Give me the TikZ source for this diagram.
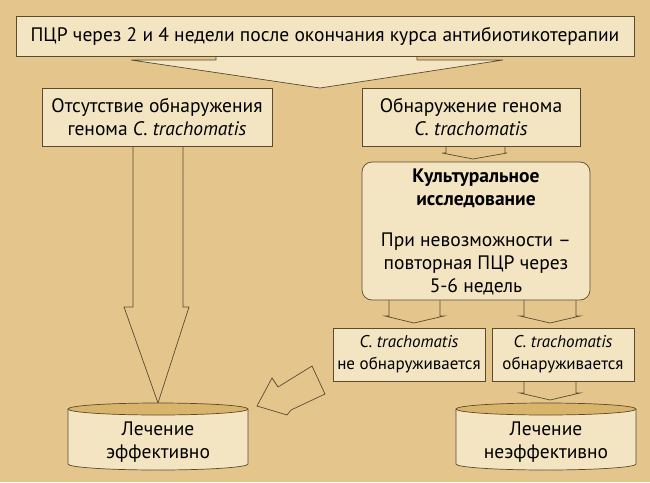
\documentclass[tikz,border=0pt]{standalone}
\usepackage{fontspec}
\setmainfont{PT Sans}
\definecolor{bg}{HTML}{E4C68C}
\definecolor{bx}{HTML}{F3E4C2}
\definecolor{ln}{HTML}{5A4A33}
\definecolor{top}{HTML}{D8B56A}
\begin{document}
\begin{tikzpicture}[x=1pt,y=-1pt,
  box/.style={draw=ln,fill=bx,line width=0.7pt},
  arr/.style={draw=ln,fill=bg,line width=0.7pt,line join=miter},
  txt/.style={align=center,font=\fontsize{19.5}{23}\selectfont,text=black,inner sep=0},
  stxt/.style={txt,font=\fontsize{17}{22}\selectfont}]
\useasboundingbox[fill=bg] (0,0) rectangle (650,482);
% top box and big arrow
\draw[arr,fill=bx] (216,55) -- (216,60) -- (131,60) -- (320,88) -- (503,60) -- (417,60) -- (417,55);
\draw[box] (16,16) rectangle (634,56);
\node[txt] (t) at (325,36) {ПЦР через 2 и 4 недели после окончания курса антибиотикотерапии};
% left column arrow
\draw[arr] (133,146) -- (133,307) -- (124,307) -- (158,403) -- (189,307) -- (183,307) -- (183,146);
\draw[box] (42,88) rectangle (272,146);
\node[txt] (l) at (157,117) {Отсутствие обнаружения\\генома \textit{C. trachomatis}};
% right column
\draw[arr] (446,146) -- (446,153) -- (442,153) -- (473,159) -- (507,153) -- (505,153) -- (505,146);
\draw[box] (362,88) rectangle (580,146);
\node[txt] (r) at (471,117) {Обнаружение генома\\\textit{C. trachomatis}};
% culture box arrows
\draw[arr] (389,300) -- (389,316) -- (385,316) -- (414,323) -- (444,316) -- (440,316) -- (440,300);
\draw[arr] (524,300) -- (524,316) -- (520,316) -- (550,323) -- (580,316) -- (576,316) -- (576,300);
\draw[box,rounded corners=10pt] (362,162) rectangle (590,300);
\node[txt,font=\fontsize{19.5}{23}\selectfont\bfseries] (c1) at (476,188) {Культуральное\\исследование};
\node[txt] (c2) at (476,264) {При невозможности –\\повторная ПЦР через\\5-6 недель};
% small boxes
\draw[arr] (524,380) -- (524,393) -- (520,393) -- (550,400) -- (580,393) -- (576,393) -- (576,380);
\draw[box] (333,328) rectangle (485,381);
\node[stxt] (n1) at (409,354) {\textit{C. trachomatis}\\не обнаруживается};
\draw[box] (492,328) rectangle (634,381);
\node[stxt] (n2) at (563,354) {\textit{C. trachomatis}\\обнаруживается};
% diagonal arrow
\draw[arr] (257,406) -- (272,378) -- (278,387) -- (312,366) -- (325,394) -- (291,410) -- (287,415) -- cycle;
% cylinders
\foreach \x/\nm in {68/a,456/b}{
  \draw[box] (\x,409) -- (\x,464) arc[start angle=180,end angle=0,x radius=90,y radius=6] -- (\x+180,409);
  \draw[draw=ln,fill=top,line width=0.7pt] (\x+90,409) ellipse[x radius=90,y radius=6];
}
\node[txt] (e1) at (158,442) {Лечение\\эффективно};
\node[txt] (e2) at (546,442) {Лечение\\неэффективно};
\end{tikzpicture}
\end{document}
